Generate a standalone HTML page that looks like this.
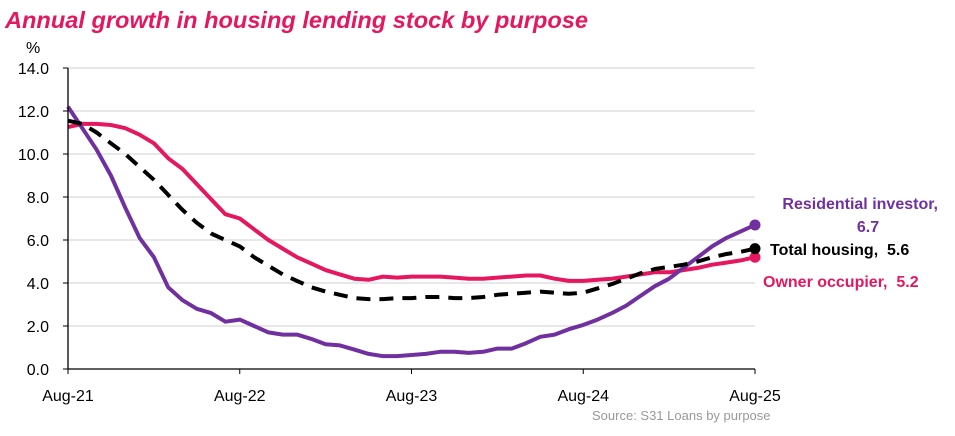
<!DOCTYPE html>
<html><head><meta charset="utf-8"><style>
body{margin:0;background:#fff;}
svg text{font-family:"Liberation Sans",sans-serif;}
</style></head><body>
<svg id="chart" width="955" height="431" viewBox="0 0 955 431" xmlns="http://www.w3.org/2000/svg">
<text x="5" y="28" font-size="23" font-style="italic" font-weight="bold" fill="#e5175f" textLength="583" lengthAdjust="spacingAndGlyphs">Annual growth in housing lending stock by purpose</text>
<text x="26" y="53" font-size="16" fill="#000">%</text>
<g id="grid"></g><g id="series"></g><g id="axes"></g>
<text x="592" y="420" font-size="13" fill="#999">Source: S31 Loans by purpose</text>
</svg>
<script>
const categories=["Aug-21","Aug-22","Aug-23","Aug-24","Aug-25"];
const yTicks=[0,2,4,6,8,10,12,14];
const investor=[12.2,11.2,10.2,9.0,7.5,6.1,5.2,3.8,3.2,2.8,2.6,2.2,2.3,2.0,1.7,1.6,1.6,1.4,1.15,1.1,0.9,0.7,0.6,0.6,0.65,0.7,0.8,0.8,0.75,0.8,0.95,0.95,1.2,1.5,1.6,1.85,2.05,2.3,2.6,2.95,3.4,3.85,4.2,4.7,5.2,5.7,6.1,6.4,6.7];
const owner=[11.25,11.4,11.4,11.35,11.2,10.9,10.5,9.8,9.3,8.6,7.9,7.2,7.0,6.5,6.0,5.6,5.2,4.9,4.6,4.4,4.2,4.15,4.3,4.25,4.3,4.3,4.3,4.25,4.2,4.2,4.25,4.3,4.35,4.35,4.2,4.1,4.1,4.15,4.2,4.3,4.4,4.5,4.5,4.6,4.7,4.85,4.95,5.05,5.2];
const total=[11.55,11.4,11.0,10.5,10.0,9.4,8.8,8.1,7.4,6.8,6.3,6.0,5.7,5.2,4.8,4.4,4.1,3.8,3.6,3.45,3.3,3.25,3.25,3.3,3.3,3.35,3.35,3.3,3.3,3.35,3.45,3.5,3.55,3.6,3.55,3.5,3.55,3.75,3.95,4.2,4.45,4.65,4.75,4.85,5.0,5.2,5.35,5.45,5.6];
const NS="http://www.w3.org/2000/svg";
const x0=68,x1=755,y0=369,y1=68;
const xs=i=>x0+i*(x1-x0)/48;
const ys=v=>y0-(v/14)*(y0-y1);
function mk(tag,attrs,parent){const e=document.createElementNS(NS,tag);for(const k in attrs)e.setAttribute(k,attrs[k]);parent.appendChild(e);return e;}
const grid=document.getElementById('grid'),axes=document.getElementById('axes'),ser=document.getElementById('series');
yTicks.forEach(t=>{
 if(t>0){const l=mk('line',{x1:x0,x2:x1,y1:ys(t),y2:ys(t),stroke:'#d9d9d9','stroke-width':1.3},grid);
 
 }
 const tk=mk('line',{x1:x0-5,x2:x0,y1:ys(t),y2:ys(t),stroke:'#000'},axes);
 
 
 const tx=mk('text',{x:x0-19,y:ys(t)+6,'font-size':16,'text-anchor':'end'},axes);tx.textContent=t.toFixed(1);
 
 
});
const ya=mk('line',{x1:x0,x2:x0,y1:y1,y2:y0,stroke:'#000','stroke-width':1.3},axes);


const xa=mk('line',{x1:x0,x2:x1,y1:y0,y2:y0,stroke:'#000','stroke-width':1.3},axes);


categories.forEach((c,i)=>{
 const xx=xs(i*12);
 const tk=mk('line',{x1:xx,x2:xx,y1:y0,y2:y0+5,stroke:'#000'},axes);
 
 
 const tx=mk('text',{x:xx,y:y0+32,'font-size':16,'text-anchor':'middle'},axes);tx.textContent=c;
 
 
});
function line(data,color,dash,name){
 const d=data.map((v,i)=>(i?'L':'M')+xs(i).toFixed(1)+','+ys(v).toFixed(1)).join('');
 const p=mk('path',{d:d,fill:'none',stroke:color,'stroke-width':4,'stroke-linejoin':'round'},ser);
 if(dash)p.setAttribute('stroke-dasharray',dash);
 
 
 const n=data.length-1;
 const c=mk('circle',{cx:xs(n),cy:ys(data[n]),r:5.5,fill:color},ser);
 
 
}
line(owner,'#e5175f',null,'owner-occupier');
line(investor,'#7030a0',null,'residential-investor');
line(total,'#000','14 9','total-housing');
function lbl(txt,x,y,color,anchor,name){const t=mk('text',{x:x,y:y,'font-size':16,'font-weight':'bold',fill:color,'text-anchor':anchor},ser);t.textContent=txt;
 
 }
lbl('Residential investor,',938,209,'#7030a0','end','investor-label');
lbl(investor[investor.length-1].toFixed(1),868,232,'#7030a0','middle','investor-value');
lbl('Total housing,\u00a0\u00a0'+total[total.length-1].toFixed(1),770,255,'#000','start','total-label');
lbl('Owner occupier,\u00a0\u00a0'+owner[owner.length-1].toFixed(1),763,287,'#e5175f','start','owner-label');
</script>
</body></html>
